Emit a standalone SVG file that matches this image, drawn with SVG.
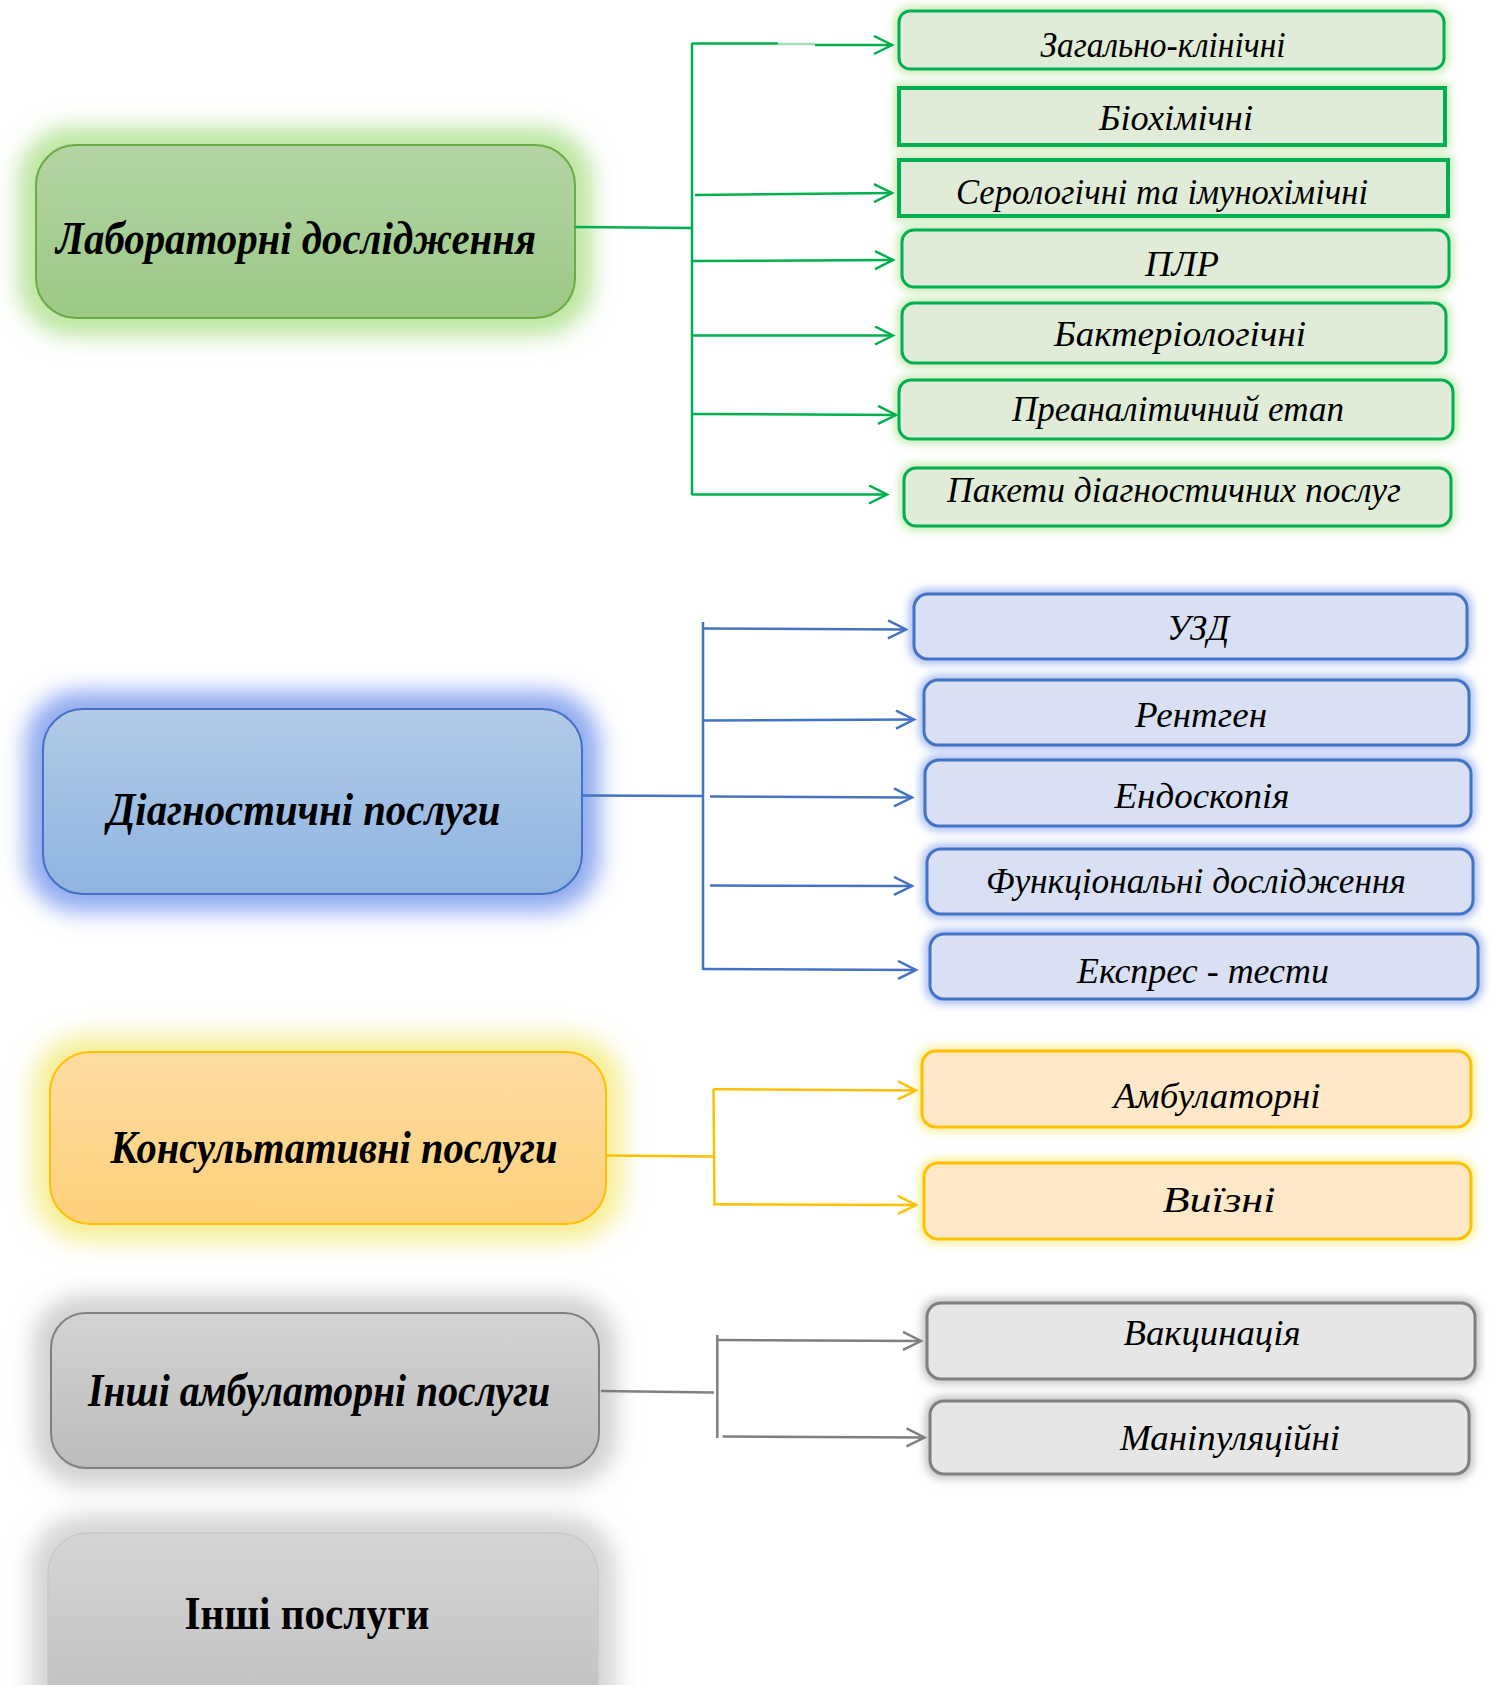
<svg xmlns="http://www.w3.org/2000/svg" width="1493" height="1685" viewBox="0 0 1493 1685">
<style>
.t{font-family:"Liberation Serif","Times New Roman",serif;font-style:italic;font-size:35px;fill:#000;text-anchor:middle}
.m{font-family:"Liberation Serif","Times New Roman",serif;font-style:italic;font-weight:bold;font-size:47px;fill:#000;text-anchor:middle}
.u{font-family:"Liberation Serif","Times New Roman",serif;font-weight:bold;font-size:46px;fill:#000;text-anchor:middle}
.gs{fill:#e0ecd8;stroke:#00b050;stroke-width:3}
.bs{fill:#dae0f3;stroke:#4472c4;stroke-width:3}
.ys{fill:#ffe8c8;stroke:#ffc000;stroke-width:3}
.ks{fill:#e6e6e6;stroke:#7f7f7f;stroke-width:3}
.cg{stroke:#00b050;stroke-width:2.5;fill:none}
.cb{stroke:#4472c4;stroke-width:2.5;fill:none}
.cy{stroke:#ffc000;stroke-width:2.5;fill:none}
.ck{stroke:#7f7f7f;stroke-width:2.5;fill:none}
</style>
<defs>
<linearGradient id="grG" x1="0" y1="0" x2="0" y2="1"><stop offset="0" stop-color="#b3d5a3"/><stop offset="1" stop-color="#9cc885"/></linearGradient>
<linearGradient id="grB" x1="0" y1="0" x2="0" y2="1"><stop offset="0" stop-color="#b2cae7"/><stop offset="1" stop-color="#8eb4e1"/></linearGradient>
<linearGradient id="grY" x1="0" y1="0" x2="0" y2="1"><stop offset="0" stop-color="#fedda3"/><stop offset="1" stop-color="#fdd07a"/></linearGradient>
<linearGradient id="grK" x1="0" y1="0" x2="0" y2="1"><stop offset="0" stop-color="#d3d3d3"/><stop offset="1" stop-color="#bcbcbc"/></linearGradient>
<linearGradient id="grK2" x1="0" y1="0" x2="0" y2="1"><stop offset="0" stop-color="#d4d4d4"/><stop offset="1" stop-color="#bfbfbf"/></linearGradient>
<filter id="fb" x="-20%" y="-40%" width="140%" height="180%"><feGaussianBlur stdDeviation="11"/></filter>
<filter id="fs" x="-10%" y="-50%" width="120%" height="200%"><feGaussianBlur stdDeviation="4"/></filter>
<marker id="aG" markerUnits="userSpaceOnUse" markerWidth="22" markerHeight="22" refX="19" refY="10" orient="auto"><path d="M1,1 L19,10 L1,19" fill="none" stroke="#00b050" stroke-width="2.5"/></marker>
<marker id="aB" markerUnits="userSpaceOnUse" markerWidth="22" markerHeight="22" refX="19" refY="10" orient="auto"><path d="M1,1 L19,10 L1,19" fill="none" stroke="#4472c4" stroke-width="2.5"/></marker>
<marker id="aY" markerUnits="userSpaceOnUse" markerWidth="22" markerHeight="22" refX="19" refY="10" orient="auto"><path d="M1,1 L19,10 L1,19" fill="none" stroke="#ffc000" stroke-width="2.5"/></marker>
<marker id="aK" markerUnits="userSpaceOnUse" markerWidth="22" markerHeight="22" refX="19" refY="10" orient="auto"><path d="M1,1 L19,10 L1,19" fill="none" stroke="#7f7f7f" stroke-width="2.5"/></marker>
</defs>
<rect width="1493" height="1685" fill="#fff"/>

<g id="lab">
<rect x="18" y="127" width="575" height="209" rx="54" fill="#bde6a3" filter="url(#fb)"/>
<rect x="36" y="145" width="539" height="173" rx="40" fill="url(#grG)" stroke="#6aab48" stroke-width="2"/>
<text class="m" x="296" y="254" textLength="480" lengthAdjust="spacingAndGlyphs">Лабораторні дослідження</text>
</g>
<g id="lab1"><rect x="894" y="6" width="555" height="68" rx="15" fill="#c8ebb4" filter="url(#fs)"/><rect class="gs" x="899" y="11" width="545" height="58" rx="11"/><text class="t" x="1163" y="57" textLength="245" lengthAdjust="spacingAndGlyphs">Загально-клінічні</text></g>
<g id="lab2"><rect x="894" y="83" width="556" height="67" rx="4" fill="#c8ebb4" filter="url(#fs)"/><rect class="gs" x="899" y="88" width="546" height="57" style="stroke-width:4"/><text class="t" x="1176" y="130" textLength="154" lengthAdjust="spacingAndGlyphs">Біохімічні</text></g>
<g id="lab3"><rect x="894" y="155" width="559" height="66" rx="4" fill="#c8ebb4" filter="url(#fs)"/><rect class="gs" x="899" y="160" width="549" height="56" style="stroke-width:4"/><text class="t" x="1162" y="204" textLength="412" lengthAdjust="spacingAndGlyphs">Серологічні та імунохімічні</text></g>
<g id="lab4"><rect x="897" y="225" width="557" height="67" rx="16" fill="#c8ebb4" filter="url(#fs)"/><rect class="gs" x="902" y="230" width="547" height="57" rx="12"/><text class="t" x="1182" y="276" textLength="74" lengthAdjust="spacingAndGlyphs">ПЛР</text></g>
<g id="lab5"><rect x="897" y="298" width="554" height="70" rx="16" fill="#c8ebb4" filter="url(#fs)"/><rect class="gs" x="902" y="303" width="544" height="60" rx="12"/><text class="t" x="1180" y="346" textLength="252" lengthAdjust="spacingAndGlyphs">Бактеріологічні</text></g>
<g id="lab6"><rect x="894" y="375" width="564" height="69" rx="16" fill="#c8ebb4" filter="url(#fs)"/><rect class="gs" x="899" y="380" width="554" height="59" rx="12"/><text class="t" x="1178" y="421" textLength="332" lengthAdjust="spacingAndGlyphs">Преаналітичний етап</text></g>
<g id="lab7"><rect x="899" y="463" width="557" height="68" rx="16" fill="#c8ebb4" filter="url(#fs)"/><rect class="gs" x="904" y="468" width="547" height="58" rx="12"/><text class="t" x="1174" y="502" textLength="454" lengthAdjust="spacingAndGlyphs">Пакети діагностичних послуг</text></g>

<g id="diag">
<rect x="25" y="691" width="575" height="221" rx="54" fill="#90acf0" filter="url(#fb)"/>
<rect x="43" y="709" width="539" height="185" rx="40" fill="url(#grB)" stroke="#4472c4" stroke-width="2"/>
<text class="m" x="304" y="825" textLength="393" lengthAdjust="spacingAndGlyphs">Діагностичні послуги</text>
</g>
<g id="diag1"><rect x="909" y="589" width="563" height="75" rx="18" fill="#a9bdf2" filter="url(#fs)"/><rect class="bs" x="914" y="594" width="553" height="65" rx="14"/><text class="t" x="1198" y="640" textLength="62" lengthAdjust="spacingAndGlyphs">УЗД</text></g>
<g id="diag2"><rect x="919" y="675" width="555" height="75" rx="18" fill="#a9bdf2" filter="url(#fs)"/><rect class="bs" x="924" y="680" width="545" height="65" rx="14"/><text class="t" x="1201" y="727" textLength="132" lengthAdjust="spacingAndGlyphs">Рентген</text></g>
<g id="diag3"><rect x="920" y="755" width="556" height="76" rx="18" fill="#a9bdf2" filter="url(#fs)"/><rect class="bs" x="925" y="760" width="546" height="66" rx="14"/><text class="t" x="1202" y="808" textLength="175" lengthAdjust="spacingAndGlyphs">Ендоскопія</text></g>
<g id="diag4"><rect x="922" y="844" width="556" height="75" rx="18" fill="#a9bdf2" filter="url(#fs)"/><rect class="bs" x="927" y="849" width="546" height="65" rx="14"/><text class="t" x="1196" y="893" textLength="420" lengthAdjust="spacingAndGlyphs">Функціональні дослідження</text></g>
<g id="diag5"><rect x="925" y="929" width="558" height="75" rx="18" fill="#a9bdf2" filter="url(#fs)"/><rect class="bs" x="930" y="934" width="548" height="65" rx="14"/><text class="t" x="1203" y="983" textLength="252" lengthAdjust="spacingAndGlyphs">Експрес - тести</text></g>

<g id="cons">
<rect x="32" y="1034" width="592" height="208" rx="54" fill="#f6ef9c" filter="url(#fb)"/>
<rect x="50" y="1052" width="556" height="172" rx="40" fill="url(#grY)" stroke="#ffc000" stroke-width="2"/>
<text class="m" x="334" y="1163" textLength="447" lengthAdjust="spacingAndGlyphs">Консультативні послуги</text>
</g>
<g id="cons1"><rect x="917" y="1046" width="559" height="86" rx="18" fill="#f8f0a0" filter="url(#fs)"/><rect class="ys" x="922" y="1051" width="549" height="76" rx="14"/><text class="t" x="1217" y="1108" textLength="207" lengthAdjust="spacingAndGlyphs">Амбулаторні</text></g>
<g id="cons2"><rect x="919" y="1158" width="557" height="86" rx="18" fill="#f8f0a0" filter="url(#fs)"/><rect class="ys" x="924" y="1163" width="547" height="76" rx="14"/><text class="t" x="1219" y="1212" textLength="113" lengthAdjust="spacingAndGlyphs">Виїзні</text></g>

<g id="amb">
<rect x="33" y="1295" width="584" height="191" rx="50" fill="#d2d2d2" filter="url(#fb)"/>
<rect x="51" y="1313" width="548" height="155" rx="35" fill="url(#grK)" stroke="#808080" stroke-width="2"/>
<text class="m" x="319" y="1406" textLength="462" lengthAdjust="spacingAndGlyphs">Інші амбулаторні послуги</text>
</g>
<g id="amb1"><rect x="922" y="1298" width="558" height="86" rx="18" fill="#c4c4c4" filter="url(#fs)"/><rect class="ks" x="927" y="1303" width="548" height="76" rx="14"/><text class="t" x="1212" y="1345" textLength="177" lengthAdjust="spacingAndGlyphs">Вакцинація</text></g>
<g id="amb2"><rect x="925" y="1396" width="549" height="83" rx="18" fill="#c4c4c4" filter="url(#fs)"/><rect class="ks" x="930" y="1401" width="539" height="73" rx="14"/><text class="t" x="1230" y="1450" textLength="220" lengthAdjust="spacingAndGlyphs">Маніпуляційні</text></g>

<g id="other">
<rect x="30" y="1515" width="586" height="232" rx="54" fill="#d6d6d6" filter="url(#fb)"/>
<rect x="48" y="1533" width="550" height="200" rx="40" fill="url(#grK2)" stroke="#c8c8c8" stroke-width="1.5"/>
<text class="u" x="307" y="1629" textLength="245" lengthAdjust="spacingAndGlyphs">Інші послуги</text>
</g>

<g id="connectors">
<path class="cg" d="M575,227 L693,228 M692,43 L692,495"/>
<path class="cg" d="M692,43.5 L778,43.5"/>
<path d="M778,44 L815,44" stroke="#a5dcbc" stroke-width="2.5"/>
<path class="cg" d="M815,45 L892,45" marker-end="url(#aG)"/>
<path class="cg" d="M695,195 L892,193" marker-end="url(#aG)"/>
<path class="cg" d="M692,261 L893,260" marker-end="url(#aG)"/>
<path class="cg" d="M692,335.5 L893,335.5" marker-end="url(#aG)"/>
<path class="cg" d="M692,414 L896,415" marker-end="url(#aG)"/>
<path class="cg" d="M692,494.5 L887,494.5" marker-end="url(#aG)"/>

<path class="cb" d="M582,795.5 L703,796 M703,622 L703,970"/>
<path class="cb" d="M703,628.5 L906,629.5" marker-end="url(#aB)"/>
<path class="cb" d="M703,720.5 L914,719.5" marker-end="url(#aB)"/>
<path class="cb" d="M710,796.5 L912,797.5" marker-end="url(#aB)"/>
<path class="cb" d="M710,885.5 L912,886" marker-end="url(#aB)"/>
<path class="cb" d="M703,969 L916,970" marker-end="url(#aB)"/>

<path class="cy" d="M606,1155.5 L714,1156.5 M713.5,1089 L714.5,1206"/>
<path class="cy" d="M713.5,1089.3 L916,1090.5" marker-end="url(#aY)"/>
<path class="cy" d="M716,1204.3 L916,1205" marker-end="url(#aY)"/>

<path class="ck" d="M601,1391 L714,1392.5 M717.3,1335 L717.3,1438"/>
<path class="ck" d="M717,1340 L921,1341" marker-end="url(#aK)"/>
<path class="ck" d="M722.5,1436.5 L924.5,1437.5" marker-end="url(#aK)"/>
</g>
</svg>
